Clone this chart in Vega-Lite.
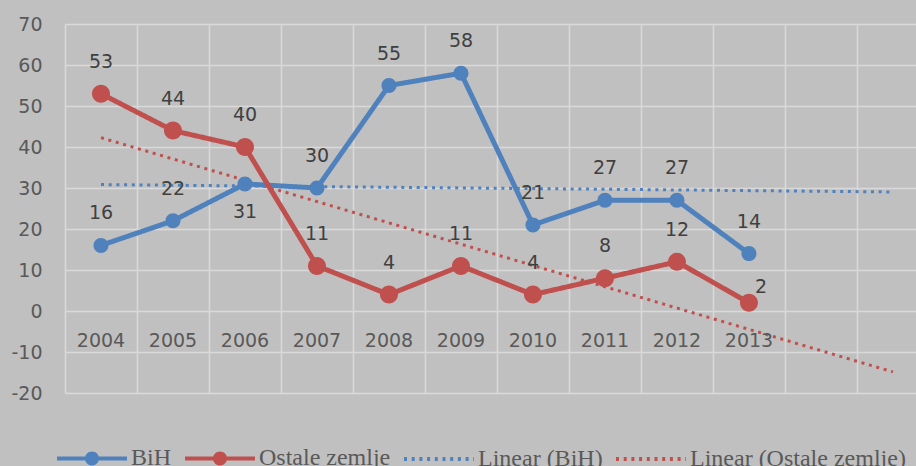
{
  "$schema": "https://vega.github.io/schema/vega-lite/v6.json",
  "width": 851,
  "height": 369,
  "autosize": {"type": "none"},
  "padding": {"left": 65, "top": 24, "right": 0, "bottom": 73},
  "background": "#c0c0c0",
  "config": {
    "view": {"stroke": null},
    "axis": {"gridColor": "#d9d9d9", "gridWidth": 1.5, "domain": false, "ticks": false, "tickSize": 0, "labelFont": "DejaVu Sans", "labelFontSize": 19, "labelColor": "#595959", "title": null},
    "axisY": {"labelPadding": 23, "labelExpr": "'' + datum.value"}
  },
  "data": {
    "values": [
      {"year": 2004, "series": "BiH", "trend": "Linear (BiH)", "value": 16},
      {"year": 2005, "series": "BiH", "trend": "Linear (BiH)", "value": 22},
      {"year": 2006, "series": "BiH", "trend": "Linear (BiH)", "value": 31},
      {"year": 2007, "series": "BiH", "trend": "Linear (BiH)", "value": 30},
      {"year": 2008, "series": "BiH", "trend": "Linear (BiH)", "value": 55},
      {"year": 2009, "series": "BiH", "trend": "Linear (BiH)", "value": 58},
      {"year": 2010, "series": "BiH", "trend": "Linear (BiH)", "value": 21},
      {"year": 2011, "series": "BiH", "trend": "Linear (BiH)", "value": 27},
      {"year": 2012, "series": "BiH", "trend": "Linear (BiH)", "value": 27},
      {"year": 2013, "series": "BiH", "trend": "Linear (BiH)", "value": 14},
      {"year": 2004, "series": "Ostale zemlje", "trend": "Linear (Ostale zemlje)", "value": 53},
      {"year": 2005, "series": "Ostale zemlje", "trend": "Linear (Ostale zemlje)", "value": 44},
      {"year": 2006, "series": "Ostale zemlje", "trend": "Linear (Ostale zemlje)", "value": 40},
      {"year": 2007, "series": "Ostale zemlje", "trend": "Linear (Ostale zemlje)", "value": 11},
      {"year": 2008, "series": "Ostale zemlje", "trend": "Linear (Ostale zemlje)", "value": 4},
      {"year": 2009, "series": "Ostale zemlje", "trend": "Linear (Ostale zemlje)", "value": 11},
      {"year": 2010, "series": "Ostale zemlje", "trend": "Linear (Ostale zemlje)", "value": 4},
      {"year": 2011, "series": "Ostale zemlje", "trend": "Linear (Ostale zemlje)", "value": 8},
      {"year": 2012, "series": "Ostale zemlje", "trend": "Linear (Ostale zemlje)", "value": 12},
      {"year": 2013, "series": "Ostale zemlje", "trend": "Linear (Ostale zemlje)", "value": 2}
    ]
  },
  "encoding": {
    "x": {"field": "year", "type": "quantitative", "scale": {"domain": [2003.5, 2015.32], "nice": false, "zero": false}, "axis": {"values": [2003.5, 2004.5, 2005.5, 2006.5, 2007.5, 2008.5, 2009.5, 2010.5, 2011.5, 2012.5, 2013.5, 2014.5], "grid": true, "labels": false, "title": null}},
    "y": {"field": "value", "type": "quantitative", "scale": {"domain": [-20, 70], "nice": false, "zero": false}, "axis": {"values": [-20, -10, 0, 10, 20, 30, 40, 50, 60, 70], "grid": true, "title": null}}
  },
  "layer": [
    {
      "transform": [{"regression": "value", "on": "year", "groupby": ["trend"], "extent": [2004, 2015]}],
      "mark": {"type": "line", "strokeWidth": 3},
      "encoding": {
        "color": {
          "field": "trend", "type": "nominal",
          "scale": {"domain": ["BiH", "Ostale zemlje", "Linear (BiH)", "Linear (Ostale zemlje)"], "range": ["#4f81bd", "#c0504d", "#4f81bd", "#c0504d"]},
          "legend": {
            "orient": "none", "legendX": -10, "legendY": 397, "direction": "horizontal", "columns": 4, "title": null,
            "symbolSize": 4900, "symbolStrokeWidth": 4, "labelFont": "Liberation Serif", "labelFontSize": 24, "labelColor": "#595959", "labelOffset": 2, "columnPadding": 5, "labelLimit": 400
          }
        },
        "strokeDash": {"field": "trend", "type": "nominal", "scale": {"domain": ["BiH", "Ostale zemlje", "Linear (BiH)", "Linear (Ostale zemlje)"], "range": [[1, 0], [1, 0], [3, 4.7], [3, 4.7]]}}
      }
    },
    {
      "mark": {"type": "line", "strokeWidth": 5},
      "encoding": {
        "color": {"field": "series", "type": "nominal", "scale": {"domain": ["BiH", "Ostale zemlje", "Linear (BiH)", "Linear (Ostale zemlje)"], "range": ["#4f81bd", "#c0504d", "#4f81bd", "#c0504d"]}},
        "strokeDash": {"field": "series", "type": "nominal", "scale": {"domain": ["BiH", "Ostale zemlje", "Linear (BiH)", "Linear (Ostale zemlje)"], "range": [[1, 0], [1, 0], [3, 4.7], [3, 4.7]]}}
      }
    },
    {
      "mark": {"type": "point", "filled": true, "opacity": 1},
      "encoding": {
        "color": {"field": "series", "type": "nominal", "scale": {"domain": ["BiH", "Ostale zemlje", "Linear (BiH)", "Linear (Ostale zemlje)"], "range": ["#4f81bd", "#c0504d", "#4f81bd", "#c0504d"]}},
        "shape": {"field": "series", "type": "nominal", "scale": {"domain": ["BiH", "Ostale zemlje", "Linear (BiH)", "Linear (Ostale zemlje)"], "range": [
          "M-1,0L1,0M0.143,0A0.143,0.143 0 1,1 -0.143,0A0.143,0.143 0 1,1 0.143,0ZM0.057,0A0.057,0.057 0 1,1 -0.057,0A0.057,0.057 0 1,1 0.057,0Z",
          "M-1,0L1,0M0.143,0A0.143,0.143 0 1,1 -0.143,0A0.143,0.143 0 1,1 0.143,0ZM0.057,0A0.057,0.057 0 1,1 -0.057,0A0.057,0.057 0 1,1 0.057,0Z",
          "M-1,0L1,0",
          "M-1,0L1,0"]}},
        "size": {"field": "series", "type": "nominal", "scale": {"domain": ["BiH", "Ostale zemlje"], "range": [11000, 15850]}, "legend": null}
      }
    },
    {
      "transform": [{"filter": "datum.series=='BiH'"}],
      "mark": {"type": "text", "font": "DejaVu Sans", "fontSize": 19, "fill": "#595959", "align": "center", "baseline": "middle"},
      "encoding": {
        "y": {"datum": -7.3},
        "text": {"field": "year", "type": "quantitative", "format": "d"}
      }
    },
    {
      "transform": [{"filter": "!((datum.series=='BiH' && datum.year==2006) || (datum.series=='Ostale zemlje' && datum.year==2013))"}],
      "mark": {"type": "text", "dy": -32, "font": "DejaVu Sans", "fontSize": 19, "fill": "#404040", "align": "center", "baseline": "middle"},
      "encoding": {
        "text": {"field": "value", "type": "quantitative", "format": "d"}
      }
    },
    {
      "transform": [{"filter": "datum.series=='BiH' && datum.year==2006"}],
      "mark": {"type": "text", "dy": 28, "font": "DejaVu Sans", "fontSize": 19, "fill": "#404040", "align": "center", "baseline": "middle"},
      "encoding": {
        "text": {"field": "value", "type": "quantitative", "format": "d"}
      }
    },
    {
      "transform": [{"filter": "datum.series=='Ostale zemlje' && datum.year==2013"}],
      "mark": {"type": "text", "dx": 12, "dy": -16, "font": "DejaVu Sans", "fontSize": 19, "fill": "#404040", "align": "center", "baseline": "middle"},
      "encoding": {
        "text": {"field": "value", "type": "quantitative", "format": "d"}
      }
    }
  ]
}
